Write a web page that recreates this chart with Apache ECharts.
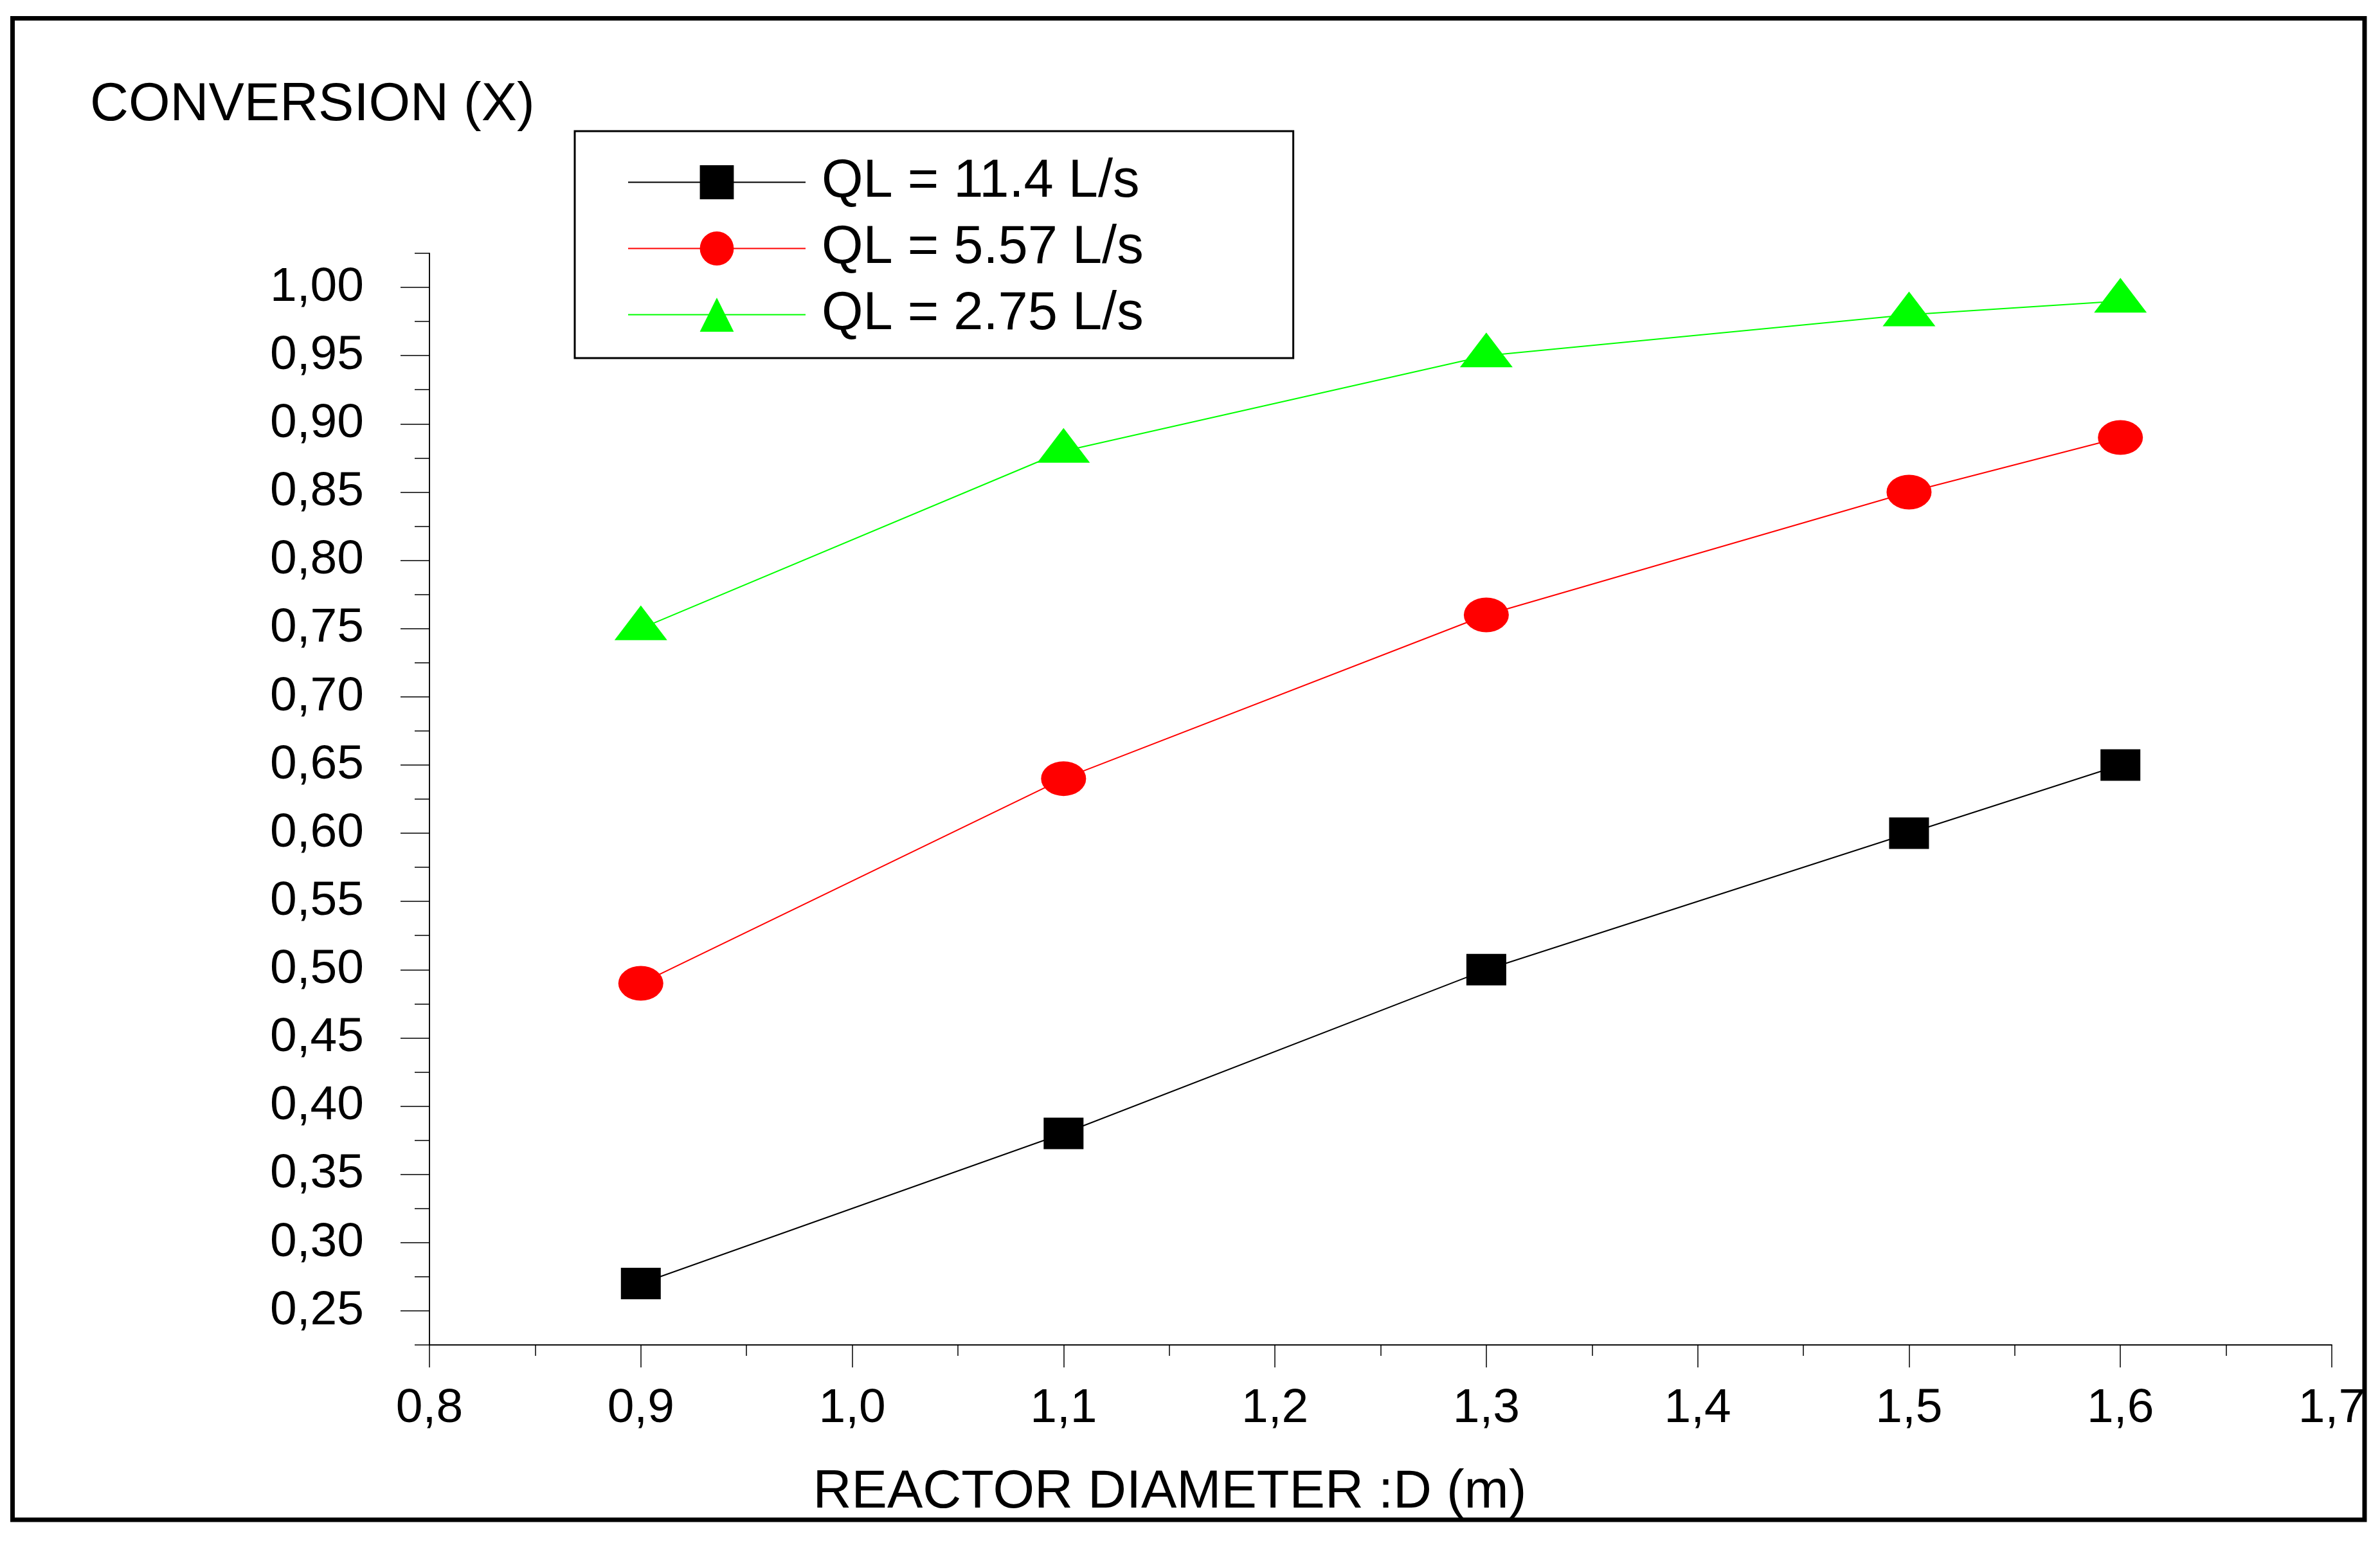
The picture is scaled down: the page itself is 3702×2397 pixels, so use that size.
<!DOCTYPE html>
<html>
<head>
<meta charset="utf-8">
<title>Conversion vs reactor diameter</title>
<script src="https://cdn.jsdelivr.net/npm/echarts@6/dist/echarts.min.js"></script>
<style>
  html, body { margin: 0; padding: 0; background: #fff; }
  #chart { width: 3702px; height: 2397px; }
</style>
</head>
<body>
<div id="chart"></div>
<script>
// data
const diameters = [0.9, 1.1, 1.3, 1.5, 1.6];
const seriesNames = ['QL = 11.4 L/s', 'QL = 5.57 L/s', 'QL = 2.75 L/s'];
const convQL114 = [0.27, 0.38, 0.50, 0.60, 0.65];
const convQL557 = [0.49, 0.64, 0.76, 0.85, 0.89];
const convQL275 = [0.75, 0.88, 0.95, 0.98, 0.99];

// axis ticks
const xMajorTicks = [0.8, 0.9, 1.0, 1.1, 1.2, 1.3, 1.4, 1.5, 1.6, 1.7];
const xMinorTicks = [0.85, 0.95, 1.05, 1.15, 1.25, 1.35, 1.45, 1.55, 1.65];
const yMajorTicks = [0.25, 0.30, 0.35, 0.40, 0.45, 0.50, 0.55, 0.60, 0.65, 0.70, 0.75, 0.80, 0.85, 0.90, 0.95, 1.00];
const yMinorTicks = [0.225, 0.275, 0.325, 0.375, 0.425, 0.475, 0.525, 0.575, 0.625, 0.675, 0.725, 0.775, 0.825, 0.875, 0.925, 0.975, 1.025];

const FONT = '"Liberation Sans", Arial, sans-serif';
const ellipse = 'path://M0,1 A1,1 0 1,1 2,1 A1,1 0 1,1 0,1 Z';

const toPairs = (ys) => diameters.map((d, i) => [d, ys[i]]);

const chart = echarts.init(document.getElementById('chart'));

const axisLine = { show: true, onZero: false, lineStyle: { color: '#000', width: 1.5 } };

const option = {
  backgroundColor: '#fff',
  animation: false,
  textStyle: { fontFamily: FONT, color: '#000' },
  title: {
    text: 'CONVERSION (X)',
    left: 140,
    top: 123,
    padding: 0,
    textStyle: { fontFamily: FONT, fontSize: 83, fontWeight: 'normal', color: '#000', lineHeight: 83 }
  },
  legend: {
    left: 894,
    top: 204,
    orient: 'vertical',
    padding: [38, 233, 26, 82],
    itemGap: 20,
    itemWidth: 276,
    itemHeight: 66,
    borderColor: '#000',
    borderWidth: 3,
    backgroundColor: '#fff',
    data: seriesNames,
    textStyle: { fontFamily: FONT, fontSize: 83, color: '#000', lineHeight: 83, padding: [0, 0, 0, 20] }
  },
  grid: { left: 668, top: 394, width: 2959, height: 1698, containLabel: false },
  xAxis: [
    {
      type: 'value',
      min: 0.8,
      max: 1.7,
      name: 'REACTOR DIAMETER :D (m)',
      nameLocation: 'middle',
      nameGap: 189,
      nameTextStyle: { fontFamily: FONT, fontSize: 83, color: '#000', lineHeight: 83, padding: [0, 656, 0, 0] },
      axisLine: axisLine,
      axisTick: { show: true, inside: false, length: 35, customValues: xMajorTicks, lineStyle: { color: '#000', width: 1.5 } },
      axisLabel: {
        show: true,
        customValues: xMajorTicks,
        margin: 62,
        fontFamily: FONT,
        fontSize: 75,
        lineHeight: 75,
        color: '#000',
        formatter: (v) => v.toFixed(1).replace('.', ',')
      },
      splitLine: { show: false }
    },
    {
      type: 'value',
      min: 0.8,
      max: 1.7,
      position: 'bottom',
      axisLine: axisLine,
      axisTick: { show: true, inside: false, length: 17, customValues: xMinorTicks, lineStyle: { color: '#000', width: 1.5 } },
      axisLabel: { show: false },
      splitLine: { show: false }
    }
  ],
  yAxis: [
    {
      type: 'value',
      min: 0.225,
      max: 1.025,
      axisLine: axisLine,
      axisTick: { show: true, inside: false, length: 45, customValues: yMajorTicks, lineStyle: { color: '#000', width: 1.5 } },
      axisLabel: {
        show: true,
        customValues: yMajorTicks,
        margin: 102,
        fontFamily: FONT,
        fontSize: 75,
        lineHeight: 75,
        padding: [10, 0, 0, 0],
        color: '#000',
        formatter: (v) => v.toFixed(2).replace('.', ',')
      },
      splitLine: { show: false }
    },
    {
      type: 'value',
      min: 0.225,
      max: 1.025,
      position: 'left',
      axisLine: axisLine,
      axisTick: { show: true, inside: false, length: 23, customValues: yMinorTicks, lineStyle: { color: '#000', width: 1.5 } },
      axisLabel: { show: false },
      splitLine: { show: false }
    }
  ],
  series: [
    {
      name: seriesNames[0],
      type: 'line',
      data: toPairs(convQL114),
      symbol: 'rect',
      symbolSize: [62, 49],
      color: '#000000',
      lineStyle: { color: '#000000', width: 2 },
      itemStyle: { color: '#000000' }
    },
    {
      name: seriesNames[1],
      type: 'line',
      data: toPairs(convQL557),
      symbol: ellipse,
      symbolSize: [70, 54],
      color: '#ff0000',
      lineStyle: { color: '#ff0000', width: 2 },
      itemStyle: { color: '#ff0000' }
    },
    {
      name: seriesNames[2],
      type: 'line',
      data: toPairs(convQL275),
      symbol: 'triangle',
      symbolSize: [82, 54],
      symbolOffset: [0, -9],
      color: '#00ff00',
      lineStyle: { color: '#00ff00', width: 2 },
      itemStyle: { color: '#00ff00' }
    }
  ],
  graphic: [
    {
      type: 'rect',
      shape: { x: 19.5, y: 28.5, width: 3658.5, height: 2335.5 },
      style: { fill: 'none', stroke: '#000', lineWidth: 7 },
      silent: true,
      z: -1
    }
  ]
};

chart.setOption(option);
</script>
</body>
</html>
